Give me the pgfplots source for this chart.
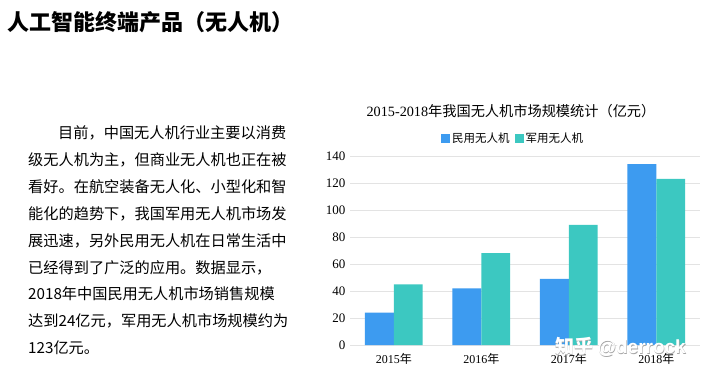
\documentclass[border=0pt]{standalone}
\usepackage{fontspec}
\setmainfont{Liberation Serif}
\newfontfamily\cjk{Noto Sans CJK SC}
\newfontfamily\wsans{Liberation Sans}
\usepackage{pgfplots}
\pgfplotsset{compat=1.18}
\definecolor{civil}{HTML}{3D9BF0}
\definecolor{mil}{HTML}{3CC8C1}
\definecolor{gridc}{HTML}{E3E3E3}
\begin{document}
\begin{tikzpicture}[x=1pt,y=1pt]
\fill[white] (0,0) rectangle (720,376);
\useasboundingbox (0,0) rectangle (720,376);
\node[anchor=west, font=\cjk\bfseries\fontsize{22}{26}\selectfont, inner sep=0] at (7,354) {人工智能终端产品（无人机）};
\begin{scope}[every node/.style={anchor=west, inner sep=0, font=\cjk\fontsize{15.2}{18}\selectfont}]
\node at (58,243) {目前，中国无人机行业主要以消费};
\node at (28,216) {级无人机为主，但商业无人机也正在被};
\node at (28,189) {看好。在航空装备无人化、小型化和智};
\node at (28,162) {能化的趋势下，我国军用无人机市场发};
\node at (28,135) {展迅速，另外民用无人机在日常生活中};
\node at (28,108) {已经得到了广泛的应用。数据显示，};
\node at (28,82) {2018年中国民用无人机市场销售规模};
\node at (28,55) {达到24亿元，军用无人机市场规模约为};
\node at (28,28) {123亿元。};
\end{scope}
\node[font=\fontsize{14.2}{16}\selectfont, inner sep=0] at (511,265) {2015-2018{\cjk 年我国无人机市场规模统计（亿元）}};
\begin{axis}[
  at={(350pt,31pt)}, anchor=south west,
  scale only axis, width=350pt, height=189pt,
  xmin=-0.5, xmax=3.5, ymin=0, ymax=140,
  ytick={0,20,...,140},
  xtick={0,1,2,3},
  xticklabels={{2015{\cjk 年}},{2016{\cjk 年}},{2017{\cjk 年}},{2018{\cjk 年}}},
  axis line style={draw=none},
  major tick length=0pt,
  ymajorgrids,
  grid style={gridc, line width=0.8pt},
  /pgf/number format/assume math mode=true,
  yticklabel style={font=\fontsize{13}{15}\selectfont, xshift=-1pt},
  xticklabel style={font=\fontsize{12}{14}\selectfont, yshift=-5pt},
  legend columns=2,
  legend style={draw=none, fill=none, at={(0.466,1.095)}, anchor=center,
    font=\cjk\fontsize{11.5}{13}\selectfont,
    /tikz/every even column/.append style={column sep=3pt}},
]
\addplot[ybar, bar width=0.33, bar shift=-0.165, fill=civil, draw=none,
  legend image code/.code={\fill[civil] (0pt,-4.5pt) rectangle (9pt,4.5pt);}]
  coordinates {(0,24) (1,42) (2,49) (3,134)};
\addlegendentry{民用无人机}
\addplot[ybar, bar width=0.33, bar shift=0.165, fill=mil, draw=none,
  legend image code/.code={\fill[mil] (0pt,-4.5pt) rectangle (9pt,4.5pt);}]
  coordinates {(0,45) (1,68) (2,89) (3,123)};
\addlegendentry{军用无人机}
\end{axis}
\node[font=\cjk\bfseries\fontsize{19}{22}\selectfont, text=black!35, inner sep=0, anchor=west] at (555.6,28.4) {知乎 {\wsans @derrock}};
\node[font=\cjk\bfseries\fontsize{19}{22}\selectfont, text=white, inner sep=0, anchor=west] at (555,29) {知乎 {\wsans @derrock}};
\end{tikzpicture}
\end{document}
